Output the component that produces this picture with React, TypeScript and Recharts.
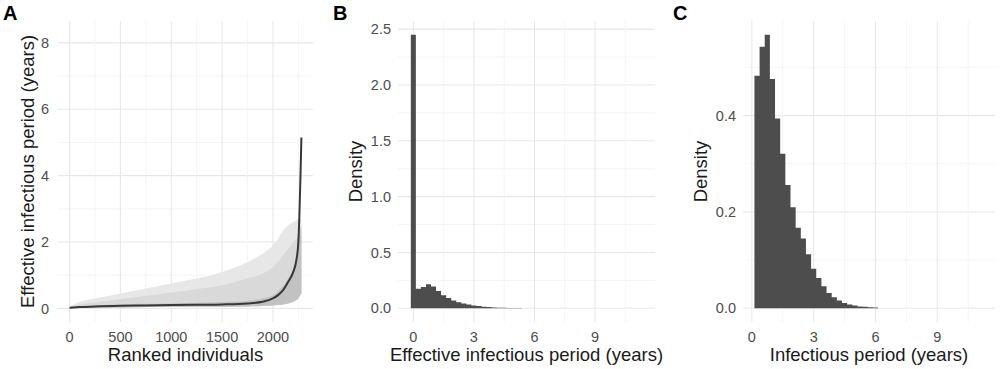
import React from 'react';
import { ComposedChart, Area, Line, XAxis, YAxis, CartesianGrid } from 'recharts';

// Panel A: effective infectious period per ranked individual
const rankA = [0, 100, 250, 500, 750, 1000, 1250, 1500, 1750, 1900, 2000, 2050, 2100, 2150, 2200, 2230, 2250, 2260, 2270, 2280];
const medianA = [0.02, 0.04, 0.06, 0.08, 0.09, 0.1, 0.11, 0.12, 0.15, 0.2, 0.3, 0.4, 0.55, 0.8, 1.1, 1.45, 2.0, 2.8, 3.9, 5.15];
const lowA = [0, 0.01, 0.02, 0.03, 0.04, 0.04, 0.05, 0.05, 0.06, 0.07, 0.09, 0.1, 0.12, 0.15, 0.2, 0.25, 0.3, 0.35, 0.4, 0.45];
const innerHiA = [0.03, 0.06, 0.09, 0.12, 0.14, 0.15, 0.17, 0.19, 0.23, 0.3, 0.4, 0.52, 0.68, 0.9, 1.2, 1.5, 1.9, 2.2, 2.4, 2.5];
const midHiA = [0.04, 0.12, 0.18, 0.28, 0.38, 0.48, 0.58, 0.7, 0.9, 1.05, 1.25, 1.4, 1.6, 1.8, 2.0, 2.1, 2.2, 2.2, 2.2, 2.2];
const outerHiA = [0.05, 0.2, 0.3, 0.45, 0.6, 0.75, 0.9, 1.1, 1.4, 1.65, 1.9, 2.1, 2.35, 2.5, 2.6, 2.65, 2.7, 2.7, 2.7, 2.7];

// Panel B: histogram of effective infectious period (bin width 0.25, centres)
const binWidth = 0.25;
const centresB = [0, 0.25, 0.5, 0.75, 1, 1.25, 1.5, 1.75, 2, 2.25, 2.5, 2.75, 3, 3.25, 3.5, 3.75, 4, 4.25, 4.5, 4.75, 5, 5.25, 5.5, 5.75, 6];
const densityB = [2.45, 0.175, 0.19, 0.215, 0.195, 0.155, 0.118, 0.092, 0.07, 0.055, 0.043, 0.034, 0.026, 0.02, 0.015, 0.011, 0.008, 0.006, 0.0045, 0.0035, 0.0025, 0.002, 0.0015, 0.001, 0.0008];

// Panel C: histogram of infectious period
const centresC = [0.25, 0.5, 0.75, 1, 1.25, 1.5, 1.75, 2, 2.25, 2.5, 2.75, 3, 3.25, 3.5, 3.75, 4, 4.25, 4.5, 4.75, 5, 5.25, 5.5, 5.75, 6];
const densityC = [0.483, 0.543, 0.568, 0.476, 0.394, 0.321, 0.256, 0.21, 0.167, 0.145, 0.112, 0.082, 0.063, 0.046, 0.032, 0.023, 0.016, 0.011, 0.008, 0.006, 0.004, 0.003, 0.002, 0.0015];

// ticks (even index = major with label, odd = minor gridline)
const ticksAX = [0, 250, 500, 750, 1000, 1250, 1500, 1750, 2000, 2250];
const ticksAY = [0, 1, 2, 3, 4, 5, 6, 7, 8];
const ticksBY = [0, 0.25, 0.5, 0.75, 1, 1.25, 1.5, 1.75, 2, 2.25, 2.5];
const ticksCY = [0, 0.1, 0.2, 0.3, 0.4, 0.5];
const ticksHistX = [0, 1.5, 3, 4.5, 6, 7.5, 9, 10.5];

const dataA = rankA.map((rank, i) => ({
  rank,
  median: medianA[i],
  low: lowA[i],
  inner: innerHiA[i],
  mid: midHiA[i],
  outer: outerHiA[i],
}));

const toSteps = (centres: number[], density: number[]) => {
  const pts = centres.map((c, i) => ({ x: c - binWidth / 2, density: density[i] }));
  const last = centres.length - 1;
  pts.push({ x: centres[last] + binWidth / 2, density: density[last] });
  return pts;
};
const dataB = toSteps(centresB, densityB);
const dataC = toSteps(centresC, densityC);

const FONT = '"Liberation Sans", Arial, Helvetica, sans-serif';
const tickStyle = { fill: '#4d4d4d', fontSize: 14.5, fontFamily: FONT };

const gridLine = (p: any) => (
  <line
    key={p.key}
    x1={p.x1}
    y1={p.y1}
    x2={p.x2}
    y2={p.y2}
    stroke={p.index % 2 === 0 ? '#e8e8e8' : '#f2f2f2'}
    strokeWidth={p.index % 2 === 0 ? 1.1 : 0.8}
  />
);

const majorOnly = (fmt: (v: number) => string) => (v: number, i: number) => (i % 2 === 0 ? fmt(v) : '');

const XTitle = ({ viewBox, title }: any) => (
  <text
    x={viewBox.x + viewBox.width / 2}
    y={viewBox.y + 39}
    textAnchor="middle"
    fontSize={18.5}
    fontFamily={FONT}
    fill="#1a1a1a"
  >
    {title}
  </text>
);

const YTitle = ({ viewBox, title, cx }: any) => {
  const x = viewBox.x + cx;
  const y = viewBox.y + viewBox.height / 2;
  return (
    <text
      x={x}
      y={y}
      transform={`rotate(-90 ${x} ${y})`}
      textAnchor="middle"
      dominantBaseline="central"
      fontSize={18.5}
      fontFamily={FONT}
      fill="#1a1a1a"
    >
      {title}
    </text>
  );
};

const Tag = ({ left, text }: { left: number; text: string }) => (
  <div
    style={{
      position: 'absolute',
      left,
      top: 3,
      fontSize: 20,
      lineHeight: '20px',
      fontWeight: 'bold',
      fontFamily: FONT,
      color: '#000',
    }}
  >
    {text}
  </div>
);

const App = () => {
  return (
    <div style={{ position: 'absolute', left: 0, top: 0, width: 1000, height: 369, background: '#fff', fontFamily: FONT }}>
      <div style={{ position: 'absolute', left: 0, top: 0 }}>
        <ComposedChart width={330} height={369} data={dataA} margin={{ top: 21, right: 17, bottom: 0, left: 0 }}>
          <CartesianGrid syncWithTicks horizontal={gridLine} vertical={gridLine} />
          <XAxis
            dataKey="rank"
            type="number"
            domain={[-114, 2394]}
            ticks={ticksAX}
            interval={0}
            allowDataOverflow
            tickFormatter={majorOnly((v) => String(v))}
            tick={tickStyle}
            tickLine={false}
            axisLine={false}
            tickSize={0}
            tickMargin={10}
            height={47}
            label={<XTitle title="Ranked individuals" />}
          />
          <YAxis
            type="number"
            domain={[-0.41, 8.66]}
            ticks={ticksAY}
            interval={0}
            allowDataOverflow
            tickFormatter={majorOnly((v) => String(v))}
            tick={tickStyle}
            tickLine={false}
            axisLine={false}
            tickSize={0}
            tickMargin={9}
            width={58}
            label={<YTitle title="Effective infectious period (years)" cx={27} />}
          />
          <Area type="monotone" dataKey={(d: any) => [d.low, d.outer]} stroke="none" fill="#e7e7e7" fillOpacity={1} isAnimationActive={false} dot={false} activeDot={false} />
          <Area type="monotone" dataKey={(d: any) => [d.low, d.mid]} stroke="none" fill="#d9d9d9" fillOpacity={1} isAnimationActive={false} dot={false} activeDot={false} />
          <Area type="monotone" dataKey={(d: any) => [d.low, d.inner]} stroke="none" fill="#c2c2c2" fillOpacity={1} isAnimationActive={false} dot={false} activeDot={false} />
          <Line type="monotone" dataKey="median" stroke="#383838" strokeWidth={2} dot={false} activeDot={false} isAnimationActive={false} />
        </ComposedChart>
      </div>

      <div style={{ position: 'absolute', left: 330, top: 0 }}>
        <ComposedChart width={340} height={369} data={dataB} margin={{ top: 21, right: 15, bottom: 0, left: 0 }}>
          <CartesianGrid syncWithTicks horizontal={gridLine} vertical={gridLine} />
          <XAxis
            dataKey="x"
            type="number"
            domain={[-0.76, 11.97]}
            ticks={ticksHistX}
            interval={0}
            allowDataOverflow
            tickFormatter={majorOnly((v) => String(v))}
            tick={tickStyle}
            tickLine={false}
            axisLine={false}
            tickSize={0}
            tickMargin={10}
            height={47}
            label={<XTitle title="Effective infectious period (years)" />}
          />
          <YAxis
            type="number"
            domain={[-0.1225, 2.5725]}
            ticks={ticksBY}
            interval={0}
            allowDataOverflow
            tickFormatter={majorOnly((v) => v.toFixed(1))}
            tick={tickStyle}
            tickLine={false}
            axisLine={false}
            tickSize={0}
            tickMargin={7}
            width={68}
            label={<YTitle title="Density" cx={25} />}
          />
          <Area type="stepAfter" dataKey="density" baseValue={0} stroke="none" fill="#4d4d4d" fillOpacity={1} isAnimationActive={false} dot={false} activeDot={false} />
        </ComposedChart>
      </div>

      <div style={{ position: 'absolute', left: 660, top: 0 }}>
        <ComposedChart width={340} height={369} data={dataC} margin={{ top: 21, right: 5, bottom: 0, left: 0 }}>
          <CartesianGrid syncWithTicks horizontal={gridLine} vertical={gridLine} />
          <XAxis
            dataKey="x"
            type="number"
            domain={[-0.43, 11.8]}
            ticks={ticksHistX}
            interval={0}
            allowDataOverflow
            tickFormatter={majorOnly((v) => String(v))}
            tick={tickStyle}
            tickLine={false}
            axisLine={false}
            tickSize={0}
            tickMargin={10}
            height={47}
            label={<XTitle title="Infectious period (years)" />}
          />
          <YAxis
            type="number"
            domain={[-0.0284, 0.5964]}
            ticks={ticksCY}
            interval={0}
            allowDataOverflow
            tickFormatter={majorOnly((v) => v.toFixed(1))}
            tick={tickStyle}
            tickLine={false}
            axisLine={false}
            tickSize={0}
            tickMargin={7}
            width={83}
            label={<YTitle title="Density" cx={40} />}
          />
          <Area type="stepAfter" dataKey="density" baseValue={0} stroke="none" fill="#4d4d4d" fillOpacity={1} isAnimationActive={false} dot={false} activeDot={false} />
        </ComposedChart>
      </div>

      <Tag left={3} text="A" />
      <Tag left={333} text="B" />
      <Tag left={673} text="C" />
    </div>
  );
};

export default App;
